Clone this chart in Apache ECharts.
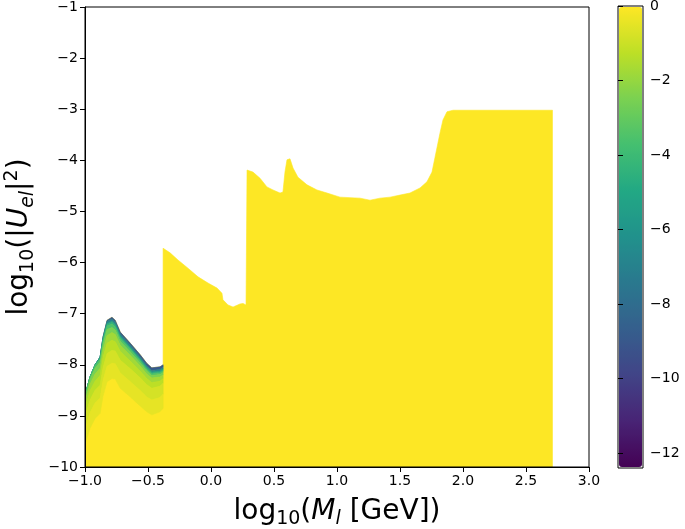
<!DOCTYPE html>
<html><head><meta charset="utf-8">
<script src="https://cdn.jsdelivr.net/npm/echarts@6/dist/echarts.min.js"></script>
<style>html,body{margin:0;padding:0;background:#fff}#c{width:685px;height:529px}</style>
</head><body><div id="c"></div>
<script>
// ---- axis / tick data ----
const xMin = -1, xMax = 3, xStep = 0.5;
const yMin = -10, yMax = -1, yStep = 1;
const cMin = -12.4, cMax = 0;
const cbTicks = [0, -2, -4, -6, -8, -10, -12];

// ---- upper boundary of the allowed region (log10 M, log10 |U|^2) ----
const boundaryX = [-1.0, -0.96, -0.92, -0.88, -0.857, -0.825, -0.786, -0.76, -0.72, -0.64, -0.56, -0.51, -0.47, -0.405, -0.38,
  -0.38, -0.325, -0.262, -0.183, -0.103, -0.024, 0.048, 0.087, 0.095, 0.135, 0.175, 0.23, 0.254, 0.278,
  0.286, 0.333, 0.389, 0.444, 0.492, 0.548, 0.571,
  0.587, 0.603, 0.627, 0.651, 0.69, 0.762, 0.841, 0.921, 1.024, 1.103, 1.183, 1.262, 1.341, 1.421, 1.5, 1.579, 1.659, 1.714, 1.754, 1.778, 1.817, 1.841, 1.873, 1.921, 2.71];
const boundaryY = [-8.6, -8.24, -8.0, -7.85, -7.46, -7.13, -7.07, -7.13, -7.36, -7.58, -7.81, -7.97, -8.06, -8.04, -8.0,
  -5.72, -5.81, -5.95, -6.11, -6.28, -6.40, -6.50, -6.60, -6.73, -6.83, -6.87, -6.81, -6.80, -6.83,
  -4.19, -4.23, -4.35, -4.52, -4.58, -4.64, -4.62,
  -4.23, -3.99, -3.97, -4.15, -4.33, -4.48, -4.58, -4.64, -4.72, -4.73, -4.74, -4.78, -4.74, -4.72, -4.68, -4.64, -4.54, -4.42, -4.23, -3.94, -3.47, -3.21, -3.05, -3.02, -3.02];
const regionValue = 0;

// ---- low-mass strip (first 15 boundary points): depth (decades) below the edge where the colour value crosses each level ----
const leftCount = 15;
const depthM8   = [0,    0,    0,    0,    0,    0.02, 0.04, 0.04, 0.04, 0.04, 0.05, 0.05, 0.05, 0.05, 0.05];
const depthM6   = [0,    0,    0,    0,    0.03, 0.06, 0.08, 0.08, 0.08, 0.08, 0.08, 0.08, 0.08, 0.08, 0.08];
const depthM5   = [0,    0,    0,    0.02, 0.05, 0.08, 0.10, 0.10, 0.10, 0.10, 0.10, 0.10, 0.10, 0.10, 0.10];
const depthM4   = [0,    0,    0.01, 0.04, 0.08, 0.11, 0.13, 0.13, 0.13, 0.12, 0.12, 0.12, 0.12, 0.12, 0.12];
const depthM3   = [0.02, 0.04, 0.07, 0.10, 0.14, 0.18, 0.20, 0.19, 0.18, 0.17, 0.16, 0.15, 0.15, 0.15, 0.15];
const depthM2   = [0.10, 0.14, 0.18, 0.22, 0.26, 0.30, 0.30, 0.28, 0.26, 0.24, 0.22, 0.21, 0.20, 0.20, 0.20];
const depthM15  = [0.22, 0.27, 0.32, 0.36, 0.40, 0.45, 0.45, 0.42, 0.38, 0.35, 0.32, 0.30, 0.29, 0.28, 0.27];
const depthM1   = [0.40, 0.45, 0.50, 0.55, 0.60, 0.65, 0.65, 0.60, 0.55, 0.50, 0.45, 0.42, 0.40, 0.38, 0.36];
const depthM06  = [0.65, 0.70, 0.75, 0.80, 0.85, 0.90, 0.90, 0.85, 0.80, 0.75, 0.70, 0.66, 0.63, 0.60, 0.57];
const depthM03  = [0.95, 1.00, 1.05, 1.10, 1.15, 1.20, 1.20, 1.15, 1.10, 1.05, 1.00, 0.95, 0.92, 0.88, 0.85];
const bandValues = [-9, -7, -5.5, -4.5, -3.5, -2.5, -1.75, -1.25, -0.8, -0.45];

const viridis = ['#440154','#482475','#414487','#355f8d','#2a788e','#21918c','#22a884','#44bf70','#7ad151','#bddf26','#fde725'];

const isoDepths = [null, depthM8, depthM6, depthM5, depthM4, depthM3, depthM2, depthM15, depthM1, depthM06, depthM03];
const seriesData = [[regionValue]].concat(bandValues.map(v => [v]));

function minusFmt(v, d) {
  const s = Math.abs(v).toFixed(d);
  return (v < 0 ? '\u2212' : '') + s;
}

const FONT = 'DejaVu Sans';
const nameRich = {
  n:   {fontSize: 28, fontFamily: FONT, color: '#000'},
  sub: {fontSize: 19, fontFamily: FONT, color: '#000', verticalAlign: 'bottom', padding: [16,0,0,0]},
  it:  {fontSize: 28, fontFamily: FONT, fontStyle: 'italic', color: '#000'},
  isub:{fontSize: 19, fontFamily: FONT, fontStyle: 'italic', color: '#000', verticalAlign: 'bottom', padding: [16,0,0,0]},
  sup: {fontSize: 19, fontFamily: FONT, color: '#000', verticalAlign: 'top', padding: [0,0,16,0]}
};

function renderItem(params, api) {
  const i = params.dataIndex;
  const pts = [];
  if (i === 0) {
    for (let j = 0; j < boundaryX.length; j++) pts.push(api.coord([boundaryX[j], boundaryY[j]]));
    pts.push(api.coord([boundaryX[boundaryX.length - 1], yMin]));
    pts.push(api.coord([boundaryX[0], yMin]));
  } else {
    const up = isoDepths[i - 1], lo = isoDepths[i];
    for (let j = 0; j < leftCount; j++) pts.push(api.coord([boundaryX[j], boundaryY[j] - (up ? up[j] : 0)]));
    for (let j = leftCount - 1; j >= 0; j--) pts.push(api.coord([boundaryX[j], boundaryY[j] - lo[j]]));
  }
  const c = api.visual('color');
  return {type: 'polygon', shape: {points: pts}, style: {fill: c, stroke: c, lineWidth: 0.6}};
}

const chart = echarts.init(document.getElementById('c'), null, {renderer: 'canvas'});
chart.setOption({
  animation: false,
  backgroundColor: '#fff',
  grid: [
    {left: 85, top: 7, width: 504, height: 460, containLabel: false, outerBoundsMode: 'none', z: 10,
     show: true, borderColor: '#000', borderWidth: 1, backgroundColor: 'transparent'},
    {left: 618, top: 6, width: 25, height: 462, containLabel: false, outerBoundsMode: 'none', z: 10,
     show: true, borderColor: '#000', borderWidth: 1, backgroundColor: 'transparent'}
  ],
  xAxis: [
    {type: 'value', gridIndex: 0, min: xMin, max: xMax, interval: xStep, z: 10,
     axisLine: {show: true, onZero: false, lineStyle: {color: '#000', width: 1}},
     axisTick: {show: true, length: 5, lineStyle: {color: '#000', width: 1}},
     axisLabel: {color: '#000', fontSize: 14, fontFamily: FONT, margin: 7, formatter: v => minusFmt(v, 1)},
     splitLine: {show: false},
     name: '{n|log}{sub|10}{n|(}{it|M}{isub|l}{n| [GeV])}', nameLocation: 'middle', nameGap: 27,
     nameTextStyle: {rich: nameRich}},
    {type: 'value', gridIndex: 1, min: 0, max: 1, show: false}
  ],
  yAxis: [
    {type: 'value', gridIndex: 0, min: yMin, max: yMax, interval: yStep, z: 10,
     axisLine: {show: true, onZero: false, lineStyle: {color: '#000', width: 1}},
     axisTick: {show: true, length: 5, lineStyle: {color: '#000', width: 1}},
     axisLabel: {color: '#000', fontSize: 14, fontFamily: FONT, margin: 7, formatter: v => minusFmt(v, 0)},
     splitLine: {show: false},
     name: '{n|log}{sub|10}{n|(|}{it|U}{isub|el}{n||}{sup|2}{n|)}', nameLocation: 'middle', nameGap: 40,
     nameTextStyle: {rich: nameRich}},
    {type: 'value', gridIndex: 1, position: 'right', min: cMin, max: cMax, z: 10,
     axisLine: {show: false},
     axisTick: {show: true, length: 5, customValues: cbTicks, lineStyle: {color: '#000', width: 1}},
     axisLabel: {color: '#000', fontSize: 14, fontFamily: FONT, margin: 7, customValues: cbTicks, formatter: v => minusFmt(v, 0)},
     splitLine: {show: false}}
  ],
  visualMap: {
    type: 'continuous', min: cMin, max: cMax, dimension: 0, seriesIndex: 0,
    calculable: false, orient: 'vertical', left: 619, top: 7, itemWidth: 23, itemHeight: 460, padding: 0,
    hoverLink: false, inRange: {color: viridis}
  },
  series: [
    {type: 'custom', xAxisIndex: 0, yAxisIndex: 0, coordinateSystem: 'cartesian2d', renderItem: renderItem,
     data: seriesData, clip: true, silent: true}
  ]
});
</script></body></html>
